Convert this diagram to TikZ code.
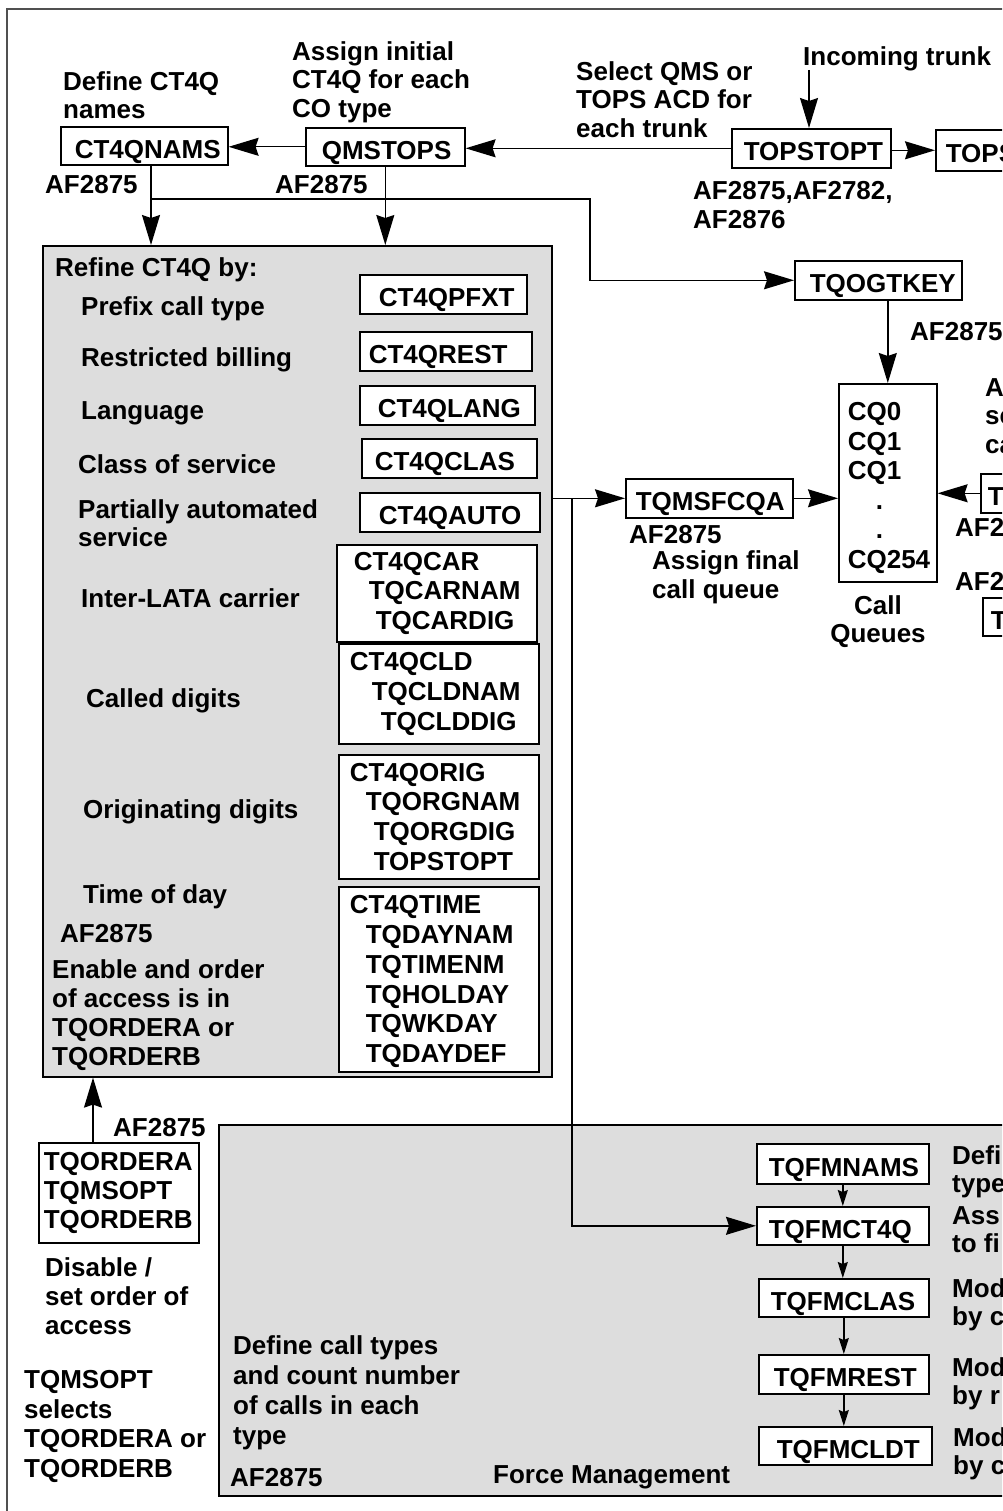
\documentclass[tikz,border=0pt]{standalone}
\usepackage{fontspec}
\setmainfont{Liberation Sans}
\usetikzlibrary{arrows.meta}
\definecolor{panelgray}{RGB}{221,221,221}
\definecolor{framegray}{RGB}{80,80,80}
\newcommand\myfs[1]{\fontsize{26}{#1}\selectfont\bfseries}
\newcommand\myind[1]{\hspace*{#1pt}}
\begin{document}
\begin{tikzpicture}[x=1pt,y=-1pt,
  lbl/.style={inner sep=0pt, align=left, anchor=north west, font=\myfs{28.8}},
  lead/.style={font=\myfs{#1}},
  box/.style={draw, line width=1.6pt, fill=white, inner sep=0pt, align=left, anchor=north west, font=\myfs{29.8}},
  one/.style={text height=25pt, text depth=0pt},
  bsz/.style 2 args={minimum width=#1pt, text width=#1pt, minimum height=#2pt},
  panel/.style={draw, line width=1.6pt, fill=panelgray, inner sep=0pt, anchor=north west},
  arr/.style={line width=1.4pt, -{Stealth[length=30pt,width=18pt,inset=3pt]}},
  sarr/.style={line width=1.4pt, -{Stealth[length=16pt,width=10pt,inset=2pt]}},
]
\useasboundingbox (0,0) rectangle (1002,1511);
\clip (0,0) rectangle (1002,1511);
\fill[white] (0,0) rectangle (1002,1511);
\draw[framegray, line width=2pt] (7,1530) -- (7,9) -- (1030,9);

% panels
\node[panel, minimum width=509pt, minimum height=831pt] (refine) at (42,245) {};
\node[panel, minimum width=900pt, minimum height=371pt] (fm) at (218,1124) {};

% top boxes
\node[box, one, bsz={167}{38}] (cnams) at (60,126) {\myind{14}CT4QNAMS};
\node[box, one, bsz={159}{38}] (qms) at (305,127) {\myind{16}QMSTOPS};
\node[box, one, bsz={159}{39}] (tt) at (731,128) {\myind{12}TOPSTOPT};
\node[box, one, bsz={160}{41}] (tops) at (935,129) {\myind{10}TOPS};
\node[box, one, bsz={167}{39}] (tqog) at (794,260) {\myind{15}TQOGTKEY};
\node[box, one, bsz={167}{39}] (tqms) at (625,478) {\myind{10}TQMSFCQA};
\node[box, bsz={98}{198}, font=\myfs{29.5}] (callq) at (838,383) {\rule{0pt}{29pt}\myind{9}CQ0\\\myind{9}CQ1\\\myind{9}CQ1\\\myind{37}.\\\myind{37}.\\\myind{9}CQ254};
\node[box, one, bsz={60}{39}] (tr1) at (980,473) {\myind{7}T};
\node[box, one, bsz={60}{38}] (tr2) at (982,597) {\myind{8}T};

% refine boxes
\node[box, one, bsz={167}{39}] (pfxt) at (359,274) {\myind{19}CT4QPFXT};
\node[box, one, bsz={172}{39}] (rest) at (359,331) {\myind{9}CT4QREST};
\node[box, one, bsz={175}{39}] (lang) at (359,385) {\myind{18}CT4QLANG};
\node[box, one, bsz={175}{39}] (clas) at (361,438) {\myind{13}CT4QCLAS};
\node[box, one, bsz={180}{39}] (auto) at (359,492) {\myind{19}CT4QAUTO};
\node[box, bsz={200}{97}] (car) at (336,544) {\myind{17}CT4QCAR\\\myind{32}TQCARNAM\\\myind{39}TQCARDIG};
\node[box, bsz={200}{100}] (cld) at (338,643) {\myind{11}CT4QCLD\\\myind{33}TQCLDNAM\\\myind{42}TQCLDDIG};
\node[box, bsz={200}{124}] (orig) at (338,754) {\myind{11}CT4QORIG\\\myind{27}TQORGNAM\\\myind{35}TQORGDIG\\\myind{35}TOPSTOPT};
\node[box, bsz={200}{185}] (time) at (338,886) {\rule{0pt}{23pt}\myind{11}CT4QTIME\\\myind{27}TQDAYNAM\\\myind{27}TQTIMENM\\\myind{27}TQHOLDAY\\\myind{27}TQWKDAY\\\myind{27}TQDAYDEF};
\node[box, bsz={160}{100}, font=\myfs{29.2}] (orda) at (38,1142) {\myind{5}TQORDERA\\\myind{5}TQMSOPT\\\myind{5}TQORDERB};

% force management boxes
\node[box, one, bsz={172}{40}] (fmnams) at (756,1143) {\myind{12}TQFMNAMS};
\node[box, one, bsz={172}{38}] (fmct) at (756,1206) {\myind{12}TQFMCT4Q};
\node[box, one, bsz={170}{38}] (fmclas) at (758,1278) {\myind{12}TQFMCLAS};
\node[box, one, bsz={170}{39}] (fmrest) at (758,1354) {\myind{15}TQFMREST};
\node[box, one, bsz={173}{38}] (fmcldt) at (758,1426) {\myind{18}TQFMCLDT};

% labels
\node[lbl, lead=28.7] (t1) at (63,71.1) {Define CT4Q\\names};
\node[lbl, lead=28.3] (t2) at (292,41.6) {Assign initial\\CT4Q for each\\CO type};
\node[lbl] (t3) at (45,175.6) {AF2875};
\node[lbl] (t4) at (275,175.6) {AF2875};
\node[lbl, lead=28.3] (t5) at (576,61.6) {Select QMS or\\TOPS ACD for\\each trunk};
\node[lbl] (t6) at (803,46.6) {Incoming trunk};
\node[lbl, lead=28.3] (t7) at (693,181.6) {AF2875,AF2782,\\AF2876};
\node[lbl] (r0) at (55,257.6) {Refine CT4Q by:};
\node[lbl] (r1) at (81,296.1) {Prefix call type};
\node[lbl] (r2) at (81,347.6) {Restricted billing};
\node[lbl] (r3) at (81,401.6) {Language};
\node[lbl] (r4) at (78,454.6) {Class of service};
\node[lbl, lead=28] (r5) at (78,499.6) {Partially automated\\service};
\node[lbl] (r6) at (81,588.1) {Inter-LATA carrier};
\node[lbl] (r7) at (86,688.1) {Called digits};
\node[lbl] (r8) at (83,799.6) {Originating digits};
\node[lbl] (r9) at (83,884.6) {Time of day};
\node[lbl] (r10) at (60,924.6) {AF2875};
\node[lbl, lead=28.8] (r11) at (52,959.6) {Enable and order\\of access is in\\TQORDERA or\\TQORDERB};
\node[lbl] (b1) at (113,1118.6) {AF2875};
\node[lbl, lead=29] (b2) at (45,1257.1) {Disable /\\set order of\\access};
\node[lbl, lead=29.5] (b3) at (24,1370.6) {TQMSOPT\\selects\\TQORDERA or\\TQORDERB};
\node[lbl, lead=30] (b4) at (233,1335.6) {Define call types\\and count number\\of calls in each\\type};
\node[lbl] (b5) at (230,1468.6) {AF2875};
\node[lbl] (b6) at (493,1465.6) {Force Management};
\node[lbl] (c1) at (910,322.6) {AF2875};
\node[lbl] (c2) at (629,525.6) {AF2875};
\node[lbl, lead=28.4] (c3) at (652,550.6) {Assign final\\call queue};
\node[lbl, align=center, anchor=north, lead=27.5] (c4) at (878,595.6) {Call\\Queues};
\node[lbl, lead=28.3] (c5) at (985,378.6) {A\\sc\\ca};
\node[lbl] (c6) at (955,518.6) {AF2};
\node[lbl] (c7) at (955,572.6) {AF2};
\node[lbl, lead=27.5] (f1) at (952,1145.6) {Defi\\type};
\node[lbl, lead=28] (f2) at (952,1206.1) {Ass\\to fi};
\node[lbl, lead=28.3] (f3) at (952,1278.6) {Mod\\by c};
\node[lbl, lead=28] (f4) at (952,1357.6) {Mod\\by r};
\node[lbl, lead=28] (f5) at (953,1427.6) {Mod\\by c};

% connectors
\coordinate (j1) at (151,199);
\coordinate (j2) at (590,199);
\coordinate (inc) at (809,70);
\coordinate (j3) at (572,0);
\coordinate (j4) at (93,0);
\draw[arr] (qms.west) -- (qms.west -| cnams.east);
\draw[arr] (tt.west) -- (tt.west -| qms.east);
\draw[arr] (inc) -- (inc |- tt.north);
\draw[arr] (tops.west -| tt.east) -- (tops.west);
\draw[arr] (j1 |- cnams.south) -- (j1 |- refine.north);
\draw[arr] (qms.south) -- (qms.south |- refine.north);
\draw[arr] (j1) -- (j2) |- (tqog.west);
\draw[arr] (tqog.south -| callq.north) -- (callq.north);
\draw[arr] (tqms.east) -- (tqms.east -| callq.west);
\draw[arr] (tr1.west) -- (tr1.west -| callq.east);
\draw[arr] (tqms.west -| refine.east) -- (tqms.west);
\draw[arr] (j3 |- tqms.west) |- (fmct.west);
\draw[arr] (j4 |- orda.north) -- (j4 |- refine.south);
\draw[sarr] (fmnams.south) -- (fmnams.south |- fmct.north);
\draw[sarr] (fmct.south) -- (fmct.south |- fmclas.north);
\draw[sarr] (fmclas.south) -- (fmclas.south |- fmrest.north);
\draw[sarr] (fmrest.south) -- (fmrest.south |- fmcldt.north);
\end{tikzpicture}
\end{document}
